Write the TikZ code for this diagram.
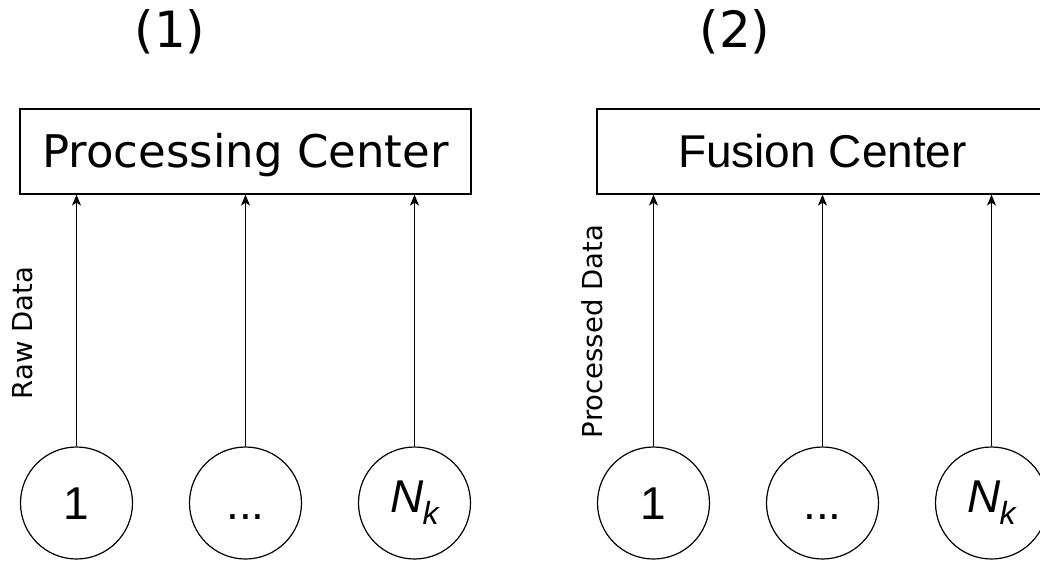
\documentclass[tikz,border=0pt]{standalone}
\usepackage{fontspec}
\setmainfont{DejaVu Sans}
\newfontfamily\helv{Liberation Sans}
\usetikzlibrary{arrows.meta}
\tikzset{
  center/.style={draw, line width=1.2pt, minimum width=451pt, minimum height=85pt,
    inner sep=0pt, text height=33pt, text depth=0pt},
  sensor/.style={draw, circle, line width=1.2pt, minimum size=112pt, inner sep=0pt,
    font=\helv\fontsize{46}{46}\selectfont, text height=33pt, text depth=0pt},
  link/.style={line width=1.2pt, -{Stealth[length=11pt,width=9pt,inset=3pt]}},
  sidelabel/.style={rotate=90, font=\fontsize{27.5}{30}\selectfont, inner sep=0pt},
  panel/.style={font=\fontsize{50}{50}\selectfont, anchor=base, inner sep=0pt}
}
\newcommand{\Nk}{\raisebox{7pt}{\itshape N\kern-1pt\raisebox{-12pt}{\fontsize{32}{32}\selectfont k}}}
\begin{document}
\begin{tikzpicture}[x=1pt, y=-1pt]
  \useasboundingbox (0,0) rectangle (1040,561);

  % panel titles
  \node[panel] (t1) at (170,48) {(1)};
  \node[panel] (t2) at (735,48) {(2)};

  % centralised processing
  \node[center, font=\fontsize{45}{45}\selectfont] (pc) at (245.5,151.5) {Processing Center};
  \node[sensor] (a1) at (76.5,503) {1};
  \node[sensor] (a2) at (245.5,503) {...};
  \node[sensor] (a3) at (414.5,503) {\Nk};
  \foreach \s in {a1,a2,a3}
    \draw[link] (\s.north) -- (\s.north |- pc.south);
  \node[sidelabel] (raw) at (23,333) {Raw Data};

  % distributed fusion
  \node[center, font=\helv\fontsize{46}{46}\selectfont] (fc) at (822.5,151.5) {Fusion Center};
  \node[sensor] (b1) at (653.5,503) {1};
  \node[sensor] (b2) at (822.5,503) {...};
  \node[sensor] (b3) at (991.5,503) {\Nk};
  \foreach \s in {b1,b2,b3}
    \draw[link] (\s.north) -- (\s.north |- fc.south);
  \node[sidelabel] (proc) at (592.5,331.5) {Processed Data};
\end{tikzpicture}
\end{document}
